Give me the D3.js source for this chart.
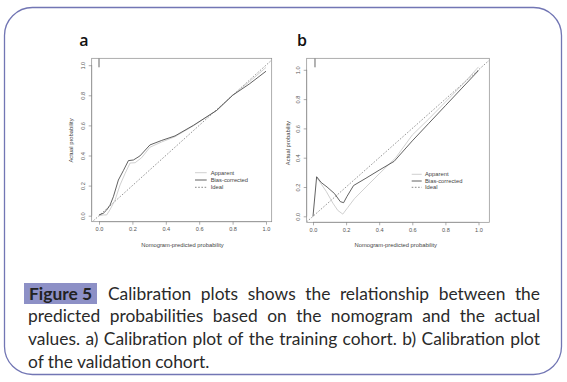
<!DOCTYPE html>
<html><head><meta charset="utf-8">
<script src="https://cdn.jsdelivr.net/npm/d3@7"></script>
<style>body{margin:0;background:#fff}svg{display:block}</style>
</head><body>
<script>
// ---- data ----
const ticks = [0, 0.2, 0.4, 0.6, 0.8, 1.0];
const legendLabels = ["Apparent", "Bias-corrected", "Ideal"];
const panelLabels = ["a", "b"];
const xTitle = "Nomogram-predicted probability";
const yTitle = "Actual probability";

const apparentA = [[0.0,0.0],[0.026,0.005],[0.046,0.005],[0.066,0.04],[0.096,0.104],[0.126,0.204],[0.156,0.28],[0.186,0.35],[0.216,0.352],[0.255,0.385],[0.305,0.455],[0.375,0.49],[0.455,0.525],[0.565,0.597],[0.705,0.70],[0.80,0.80],[0.9,0.89],[1.0,0.985]];
const biasA = [[0.0,0.005],[0.026,0.016],[0.046,0.038],[0.066,0.07],[0.086,0.126],[0.116,0.237],[0.146,0.30],[0.176,0.366],[0.206,0.37],[0.245,0.397],[0.305,0.47],[0.375,0.50],[0.455,0.53],[0.565,0.60],[0.705,0.70],[0.80,0.80],[0.9,0.875],[1.0,0.96]];
const apparentB = [[0.022,0.265],[0.05,0.22],[0.08,0.17],[0.12,0.09],[0.15,0.04],[0.18,0.015],[0.21,0.06],[0.25,0.12],[0.32,0.2],[0.4,0.29],[0.5,0.4],[0.6,0.555],[0.7,0.665],[0.8,0.78],[0.9,0.895],[1.0,1.02]];
const biasB = [[0.0,0.0],[0.022,0.27],[0.05,0.23],[0.085,0.2],[0.13,0.155],[0.165,0.1],[0.185,0.093],[0.205,0.135],[0.245,0.21],[0.32,0.26],[0.4,0.315],[0.49,0.375],[0.6,0.515],[0.7,0.635],[0.8,0.755],[0.9,0.875],[1.0,0.995]];
const rugA = [0.0];
const rugB = [0.012];

const captionHead = "Figure 5";
const captionLines = [
  "Calibration plots shows the relationship between the",
  "predicted probabilities based on the nomogram and the actual",
  "values. a) Calibration plot of the training cohort. b) Calibration plot",
  "of the validation cohort."
];

// ---- drawing ----
const W = 567, H = 382;
const svg = d3.select("body").append("svg").attr("width", W).attr("height", H);
svg.append("rect").attr("width", W).attr("height", H).attr("fill", "#fff");

// outer rounded frame
svg.append("rect").attr("x", 4.5).attr("y", 7.5).attr("width", 557).attr("height", 367)
  .attr("rx", 28).attr("ry", 28).attr("fill", "none").attr("stroke", "#7276b4").attr("stroke-width", 1.3);

const axisFont = "Liberation Sans, Arial, sans-serif";
const panels = [
  {label: panelLabels[0], lx: 84, box: {x0: 91.7, x1: 271.7, y0: 58.3, y1: 221.7},
   xr: [99, 266], yr: [215.7, 65.2], app: apparentA, bias: biasA, rug: rugA,
   ytx: 71, leg: {x0: 195, x1: 206.7, tx: 210.7, ys: [172.7, 180, 187.3]}},
  {label: panelLabels[1], lx: 302, box: {x0: 306.7, x1: 489.3, y0: 58.3, y1: 222.3},
   xr: [313, 478.5], yr: [216.3, 69.8], app: apparentB, bias: biasB, rug: rugB,
   ytx: 288, leg: {x0: 411.7, x1: 421.7, tx: 425, ys: [174.3, 181, 187.3]}}
];

const darkCol = "#3a3a3a", lightCol = "#c4c4c4", idealCol = "#6a6a6a";

panels.forEach((p, i) => {
  const g = svg.append("g");
  const x = d3.scaleLinear().domain([0, 1]).range(p.xr);
  const y = d3.scaleLinear().domain([0, 1]).range(p.yr);
  const b = p.box;

  // panel label
  g.append("text").attr("x", p.lx).attr("y", 45.5).attr("font-family", "'Open Sans', sans-serif")
    .attr("font-size", 16).attr("font-weight", 600).attr("fill", "#111").attr("text-anchor", "middle").text(p.label);

  const clipId = "clip" + i;
  svg.append("clipPath").attr("id", clipId).append("rect")
    .attr("x", b.x0).attr("y", b.y0).attr("width", b.x1 - b.x0).attr("height", b.y1 - b.y0);
  const inner = g.append("g").attr("clip-path", `url(#${clipId})`);

  // ideal line spanning box
  const dx0 = x.invert(b.x0), dx1 = x.invert(b.x1);
  inner.append("line").attr("x1", x(dx0 - 1)).attr("y1", y(dx0 - 1)).attr("x2", x(dx1 + 1)).attr("y2", y(dx1 + 1))
    .attr("stroke", idealCol).attr("stroke-width", 0.7).attr("stroke-dasharray", "1.6,1.6");

  const line = d3.line().x(d => x(d[0])).y(d => y(d[1]));
  inner.append("path").attr("d", line(p.app)).attr("fill", "none").attr("stroke", lightCol).attr("stroke-width", 0.8);
  inner.append("path").attr("d", line(p.bias)).attr("fill", "none").attr("stroke", darkCol).attr("stroke-width", 0.8);

  // rug at top
  p.rug.forEach(v => {
    g.append("line").attr("x1", x(v)).attr("x2", x(v)).attr("y1", b.y0).attr("y2", b.y0 + 9)
      .attr("stroke", "#555").attr("stroke-width", 0.9);
  });

  // box
  g.append("rect").attr("x", b.x0).attr("y", b.y0).attr("width", b.x1 - b.x0).attr("height", b.y1 - b.y0)
    .attr("fill", "none").attr("stroke", "#8a8a8a").attr("stroke-width", 0.7);

  // x axis
  const xa = g.append("g").attr("transform", `translate(0,${b.y1})`)
    .call(d3.axisBottom(x).tickValues(ticks).tickSize(3).tickPadding(2.5).tickFormat(d3.format(".1f")));
  xa.select(".domain").attr("stroke", "#8a8a8a").attr("stroke-width", 0.6).attr("d", `M${x(0)},0H${x(1)}`);
  xa.selectAll(".tick line").attr("stroke", "#777").attr("stroke-width", 0.6);
  xa.selectAll(".tick text").attr("font-family", axisFont).attr("font-size", 5.6).attr("fill", "#555");

  // y axis
  const ya = g.append("g").attr("transform", `translate(${b.x0},0)`)
    .call(d3.axisLeft(y).tickValues(ticks).tickSize(3).tickFormat(d3.format(".1f")));
  ya.select(".domain").attr("stroke", "#8a8a8a").attr("stroke-width", 0.6).attr("d", `M0,${y(0)}V${y(1)}`);
  ya.selectAll(".tick line").attr("stroke", "#777").attr("stroke-width", 0.6);
  ya.selectAll(".tick text").attr("font-family", axisFont).attr("font-size", 5.6).attr("fill", "#555")
    .attr("x", null).attr("dy", null).attr("text-anchor", "middle")
    .attr("transform", "translate(-9,0) rotate(-90)").attr("y", 0).attr("dy", "0.35em");

  // titles
  g.append("text").attr("x", (x(0) + x(1)) / 2).attr("y", 246.5).attr("text-anchor", "middle")
    .attr("font-family", axisFont).attr("font-size", 5.8).attr("fill", "#444").text(xTitle);
  g.append("text").attr("transform", `translate(${p.ytx},${(y(0) + y(1)) / 2}) rotate(-90)`)
    .attr("text-anchor", "middle").attr("dy", "0.35em")
    .attr("font-family", axisFont).attr("font-size", 5.8).attr("fill", "#444").text(yTitle);

  // legend
  const L = p.leg;
  const styles = [
    {c: lightCol, d: null}, {c: darkCol, d: null}, {c: idealCol, d: "1.6,1.6"}
  ];
  legendLabels.forEach((t, k) => {
    const ln = g.append("line").attr("x1", L.x0).attr("x2", L.x1).attr("y1", L.ys[k]).attr("y2", L.ys[k])
      .attr("stroke", styles[k].c).attr("stroke-width", 0.8);
    if (styles[k].d) ln.attr("stroke-dasharray", styles[k].d);
    g.append("text").attr("x", L.tx).attr("y", L.ys[k]).attr("dy", "0.35em")
      .attr("font-family", axisFont).attr("font-size", 5.8).attr("fill", "#444").text(t);
  });
});

// ---- caption ----
const capFont = "Lato, 'Open Sans', sans-serif";
const capSize = 17.4;
const cg = svg.append("g");
cg.append("rect").attr("x", 24).attr("y", 283).attr("width", 73).attr("height", 21).attr("fill", "#8d90c6");
cg.append("text").attr("x", 60.5).attr("y", 299.5).attr("text-anchor", "middle")
  .attr("font-family", capFont).attr("font-size", capSize).attr("font-weight", "bold").attr("fill", "#222").text(captionHead);

const lineY = [299.5, 322, 345, 367.5];
const leftX = [108, 28, 28, 28];
const rightX = 540;
captionLines.forEach((ln, i) => {
  const words = ln.split(" ");
  const tmp = cg.append("g");
  const widths = words.map(w => {
    const t = tmp.append("text").attr("font-family", capFont).attr("font-size", capSize).text(w);
    return t.node().getComputedTextLength();
  });
  tmp.remove();
  const total = d3.sum(widths);
  const justify = i < captionLines.length - 1;
  const gap = justify ? Math.max(2, (rightX - leftX[i] - total) / (words.length - 1)) : capSize * 0.23;
  let cx = leftX[i];
  words.forEach((w, k) => {
    cg.append("text").attr("x", cx).attr("y", lineY[i]).attr("font-family", capFont)
      .attr("font-size", capSize).attr("fill", "#2a2a2a").text(w);
    cx += widths[k] + gap;
  });
});
</script>
</body></html>
